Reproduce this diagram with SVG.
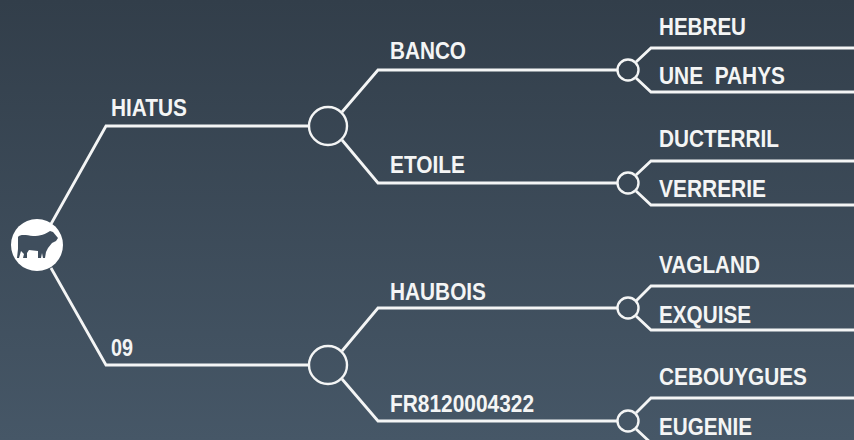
<svg xmlns="http://www.w3.org/2000/svg" width="854" height="440" viewBox="0 0 854 440">
<defs>
<linearGradient id="bg" x1="0" y1="0" x2="0" y2="1"><stop offset="0" stop-color="#323e4a"/><stop offset="1" stop-color="#465767"/></linearGradient>
</defs>
<style>
.c{fill:none;stroke:#f4f5f5;stroke-width:2.8}
.n{fill:none;stroke:#f4f5f5;stroke-width:2.4}
text{font-family:"Liberation Sans",Arial,sans-serif;font-size:23px;font-weight:700;fill:#f4f5f5}
</style>
<rect width="854" height="440" fill="url(#bg)"/>
<g id="connectors">
<path class="c" d="M51 224L106 126H309M51 268L106 365H309"/>
<path class="c" d="M342 112L378 70H618M342 140L378 183H618"/>
<path class="c" d="M342 351L378 308H618M342 379L378 421H618"/>
<path class="c" d="M636 62L651 48H854M636 78L651 92H854"/>
<path class="c" d="M636 175L651 161H854M636 191L651 205H854"/>
<path class="c" d="M636 301L651 286H854M636 316L651 330H854"/>
<path class="c" d="M636 413L651 398H854M636 429L651 443H854"/>
</g>
<g id="root">
<circle cx="37" cy="245" r="26" fill="#fff"/>
<path fill="#3f4e5d" d="M18 237C20 234 26 235 33 236C40 236 46 234 50 231L53 232L58 238L56 241L52 243L48 248L46 252L45 258H43L42 253L41 258H38L38 251L29 250L27 253L27 258H23L24 254L21 251L19 258H17L18 249Z"/>
</g>
<g id="hiatus-node"><circle class="n" cx="328" cy="126" r="19"/><text x="111" y="116" textLength="76" lengthAdjust="spacingAndGlyphs">HIATUS</text></g>
<g id="n09"><circle class="n" cx="328" cy="365" r="19"/><text x="111" y="356" textLength="22" lengthAdjust="spacingAndGlyphs">09</text></g>
<g id="banco"><circle class="n" cx="628" cy="70" r="10.5"/><text x="390" y="59" textLength="76" lengthAdjust="spacingAndGlyphs">BANCO</text></g>
<g id="etoile"><circle class="n" cx="628" cy="183" r="10.5"/><text x="390" y="173" textLength="75" lengthAdjust="spacingAndGlyphs">ETOILE</text></g>
<g id="haubois"><circle class="n" cx="628" cy="308" r="10.5"/><text x="390" y="300" textLength="96" lengthAdjust="spacingAndGlyphs">HAUBOIS</text></g>
<g id="fr"><circle class="n" cx="628" cy="421" r="10.5"/><text x="390" y="412" textLength="144" lengthAdjust="spacingAndGlyphs">FR8120004322</text></g>
<g id="hebreu"><text x="659" y="35" textLength="87" lengthAdjust="spacingAndGlyphs">HEBREU</text></g>
<g id="pahys"><text x="659" y="84" xml:space="preserve" textLength="126" lengthAdjust="spacingAndGlyphs">UNE  PAHYS</text></g>
<g id="ducterril"><text x="659" y="147" textLength="120" lengthAdjust="spacingAndGlyphs">DUCTERRIL</text></g>
<g id="verrerie"><text x="659" y="197" textLength="107" lengthAdjust="spacingAndGlyphs">VERRERIE</text></g>
<g id="vagland"><text x="659" y="273" textLength="101" lengthAdjust="spacingAndGlyphs">VAGLAND</text></g>
<g id="exquise"><text x="659" y="323" textLength="92" lengthAdjust="spacingAndGlyphs">EXQUISE</text></g>
<g id="cebouygues"><text x="659" y="385" textLength="148" lengthAdjust="spacingAndGlyphs">CEBOUYGUES</text></g>
<g id="eugenie"><text x="659" y="435" textLength="93" lengthAdjust="spacingAndGlyphs">EUGENIE</text></g>
</svg>
